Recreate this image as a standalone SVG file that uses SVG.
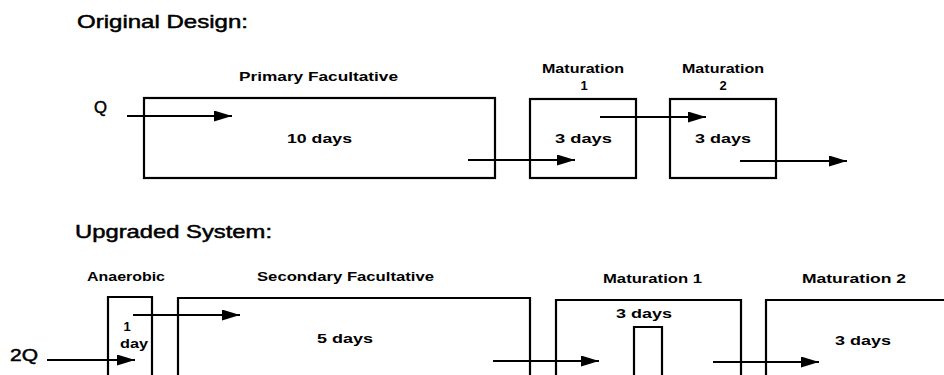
<svg xmlns="http://www.w3.org/2000/svg" width="944" height="375" viewBox="0 0 944 375">
<defs>
<marker id="ah" markerUnits="userSpaceOnUse" markerWidth="20" markerHeight="12" refX="18" refY="5.5" orient="auto">
<path d="M0,0 L18,5.5 L0,11 z" fill="#000"/>
</marker>
<style>
.box{fill:none;stroke:#000;stroke-width:2.2}
.conn line{stroke:#000;stroke-width:2;marker-end:url(#ah)}
text{font-family:"Liberation Sans",Arial,sans-serif;fill:#000}
.title{font-size:19px;stroke:#000;stroke-width:0.5}
.lbl{font-size:13px;font-weight:bold}
.flow{font-size:17px;stroke:#000;stroke-width:0.5}
</style>
</defs>
<rect width="944" height="375" fill="#fff"/>

<text class="title" x="77" y="28" textLength="171" lengthAdjust="spacingAndGlyphs">Original Design:</text>
<text class="title" x="75" y="238" textLength="197" lengthAdjust="spacingAndGlyphs">Upgraded System:</text>

<g id="Q-label"><text class="flow" x="94" y="113" textLength="13" lengthAdjust="spacingAndGlyphs">Q</text></g>

<g id="primary-facultative">
<rect class="box" x="144" y="98" width="351" height="80"/>
<text class="lbl" x="239" y="81" textLength="159" lengthAdjust="spacingAndGlyphs">Primary Facultative</text>
<text class="lbl" x="287" y="143" textLength="65" lengthAdjust="spacingAndGlyphs">10 days</text>
</g>

<g id="maturation-1-orig">
<rect class="box" x="530" y="99" width="106" height="79"/>
<text class="lbl" x="542" y="73" textLength="82" lengthAdjust="spacingAndGlyphs">Maturation</text>
<text class="lbl" x="584" y="90" text-anchor="middle">1</text>
<text class="lbl" x="555" y="143" textLength="57" lengthAdjust="spacingAndGlyphs">3 days</text>
</g>

<g id="maturation-2-orig">
<rect class="box" x="670" y="99" width="106" height="79"/>
<text class="lbl" x="682" y="73" textLength="82" lengthAdjust="spacingAndGlyphs">Maturation</text>
<text class="lbl" x="723" y="90" text-anchor="middle">2</text>
<text class="lbl" x="695" y="143" textLength="56" lengthAdjust="spacingAndGlyphs">3 days</text>
</g>

<g id="twoQ-label"><text class="flow" x="10" y="361" textLength="28" lengthAdjust="spacingAndGlyphs">2Q</text></g>

<g id="anaerobic">
<path class="box" d="M108,380 V297 H152 V380"/>
<text class="lbl" x="87" y="281" textLength="78" lengthAdjust="spacingAndGlyphs">Anaerobic</text>
<text class="lbl" x="127" y="331" text-anchor="middle">1</text>
<text class="lbl" x="120" y="348" textLength="28" lengthAdjust="spacingAndGlyphs">day</text>
</g>

<g id="secondary-facultative">
<path class="box" d="M178,380 V298 H530 V380"/>
<text class="lbl" x="257" y="281" textLength="177" lengthAdjust="spacingAndGlyphs">Secondary Facultative</text>
<text class="lbl" x="317" y="343" textLength="56" lengthAdjust="spacingAndGlyphs">5 days</text>
</g>

<g id="maturation-1-new">
<path class="box" d="M556,380 V300 H741 V380"/>
<path class="box" d="M634,380 V327 H662 V380"/>
<text class="lbl" x="603" y="283" textLength="99" lengthAdjust="spacingAndGlyphs">Maturation 1</text>
<text class="lbl" x="616" y="318" textLength="56" lengthAdjust="spacingAndGlyphs">3 days</text>
</g>

<g id="maturation-2-new">
<path class="box" d="M766,380 V300 H950"/>
<text class="lbl" x="802" y="283" textLength="104" lengthAdjust="spacingAndGlyphs">Maturation 2</text>
<text class="lbl" x="835" y="345" textLength="56" lengthAdjust="spacingAndGlyphs">3 days</text>
</g>

<g id="connectors" class="conn">
<line x1="127" y1="116" x2="232" y2="116"/>
<line x1="468" y1="160" x2="575" y2="160"/>
<line x1="600" y1="117" x2="706" y2="117"/>
<line x1="740" y1="161" x2="847" y2="161"/>
<line x1="47" y1="360" x2="135" y2="360"/>
<line x1="133" y1="315" x2="240" y2="315"/>
<line x1="493" y1="361" x2="599" y2="361"/>
<line x1="713" y1="362" x2="819" y2="362"/>
</g>
</svg>
